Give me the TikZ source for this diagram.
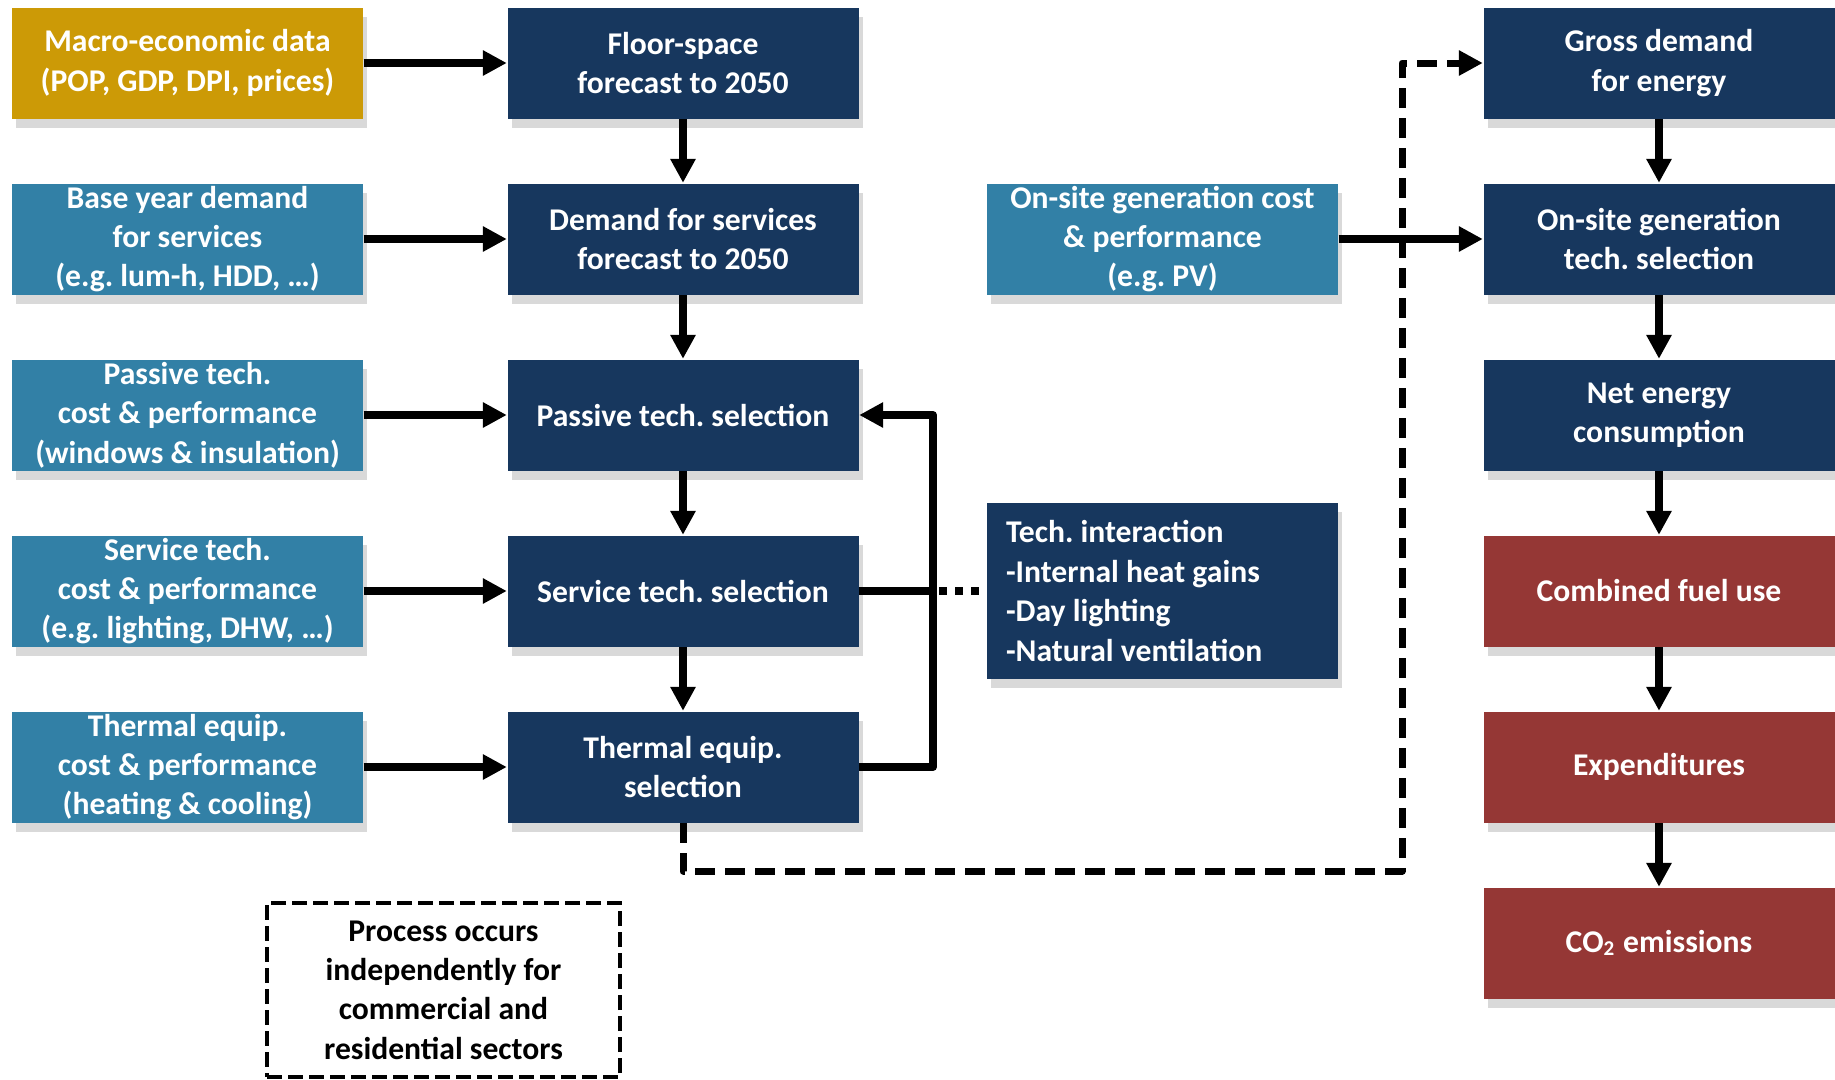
\documentclass[tikz,border=0pt]{standalone}
\usepackage{fontspec}
\setmainfont{Carlito}
\usetikzlibrary{calc, positioning}
\usetikzlibrary{arrows.meta}
\usetikzlibrary{shadows}

\definecolor{navy}{HTML}{17375E}
\definecolor{inblue}{HTML}{3280A6}
\definecolor{gold}{HTML}{CC9A06}
\definecolor{brick}{HTML}{953735}

\tikzset{
  box/.style={rectangle, minimum width=3.51cm, minimum height=1.11cm, inner sep=0pt,
    align=center, text=white,
    drop shadow={shadow xshift=0.4mm, shadow yshift=-0.9mm, opacity=0.3}},
  inbox/.style={box, fill=inblue},
  stepbox/.style={box, fill=navy},
  outbox/.style={box, fill=brick},
  flow/.style={line width=0.8mm, line join=round, -{Triangle[length=2.4mm, width=2.4mm]}},
  dashflow/.style={flow, line width=0.7mm, dash pattern=on 2mm off 1mm},
  dotline/.style={line width=0.8mm, dash pattern=on 0.8mm off 0.8mm},
}

\begin{document}
\begin{tikzpicture}[font=\fontsize{9}{11.2}\selectfont\bfseries\frenchspacing]
\useasboundingbox (0,0) rectangle (18.35,-10.79);
\def\colL{1.875}
\def\colM{6.83}
\def\colC{11.625}
\def\colR{16.59}
\coordinate (fb) at (9.33,0);
\coordinate (dr) at (14.02,-8.71);

\node[inbox, fill=gold] (macro) at (\colL,-0.63) {Macro-economic data\\(POP, GDP, DPI, prices)};
\node[inbox] (base) at (\colL,-2.39) {Base year demand\\for services\\(e.g. lum-h, HDD, …)};
\node[inbox] (passin) at (\colL,-4.15) {Passive tech.\\cost \& performance\\(windows \& insulation)};
\node[inbox] (servin) at (\colL,-5.91) {Service tech.\\cost \& performance\\(e.g. lighting, DHW, …)};
\node[inbox] (thermin) at (\colL,-7.67) {Thermal equip.\\cost \& performance\\(heating \& cooling)};

\node[stepbox] (floor) at (\colM,-0.63) {Floor-space\\forecast to 2050};
\node[stepbox] (demand) at (\colM,-2.39) {Demand for services\\forecast to 2050};
\node[stepbox] (passsel) at (\colM,-4.15) {Passive tech. selection};
\node[stepbox] (servsel) at (\colM,-5.91) {Service tech. selection};
\node[stepbox] (thermsel) at (\colM,-7.67) {Thermal equip.\\selection};

\node[inbox] (gencost) at (\colC,-2.39) {On-site generation cost\\\& performance\\(e.g. PV)};
\node[stepbox, minimum height=1.76cm, text width=3.13cm, inner xsep=0.19cm, align=flush left]
  (inter) at (\colC,-5.91) {Tech. interaction\\-Internal heat gains\\-Day lighting\\-Natural ventilation};

\node[stepbox] (gross) at (\colR,-0.63) {Gross demand\\for energy};
\node[stepbox] (gensel) at (\colR,-2.39) {On-site generation\\tech. selection};
\node[stepbox] (net) at (\colR,-4.15) {Net energy\\consumption};
\node[outbox] (fuel) at (\colR,-5.91) {Combined fuel use};
\node[outbox] (expend) at (\colR,-7.67) {Expenditures};
\node[outbox] (co2) at (\colR,-9.43) {CO\textsubscript{2} emissions};

\node[draw, line width=0.4mm, dash pattern=on 1.5mm off 0.6mm, minimum width=3.53cm,
  minimum height=1.74cm, inner sep=0pt, align=center] (note) at (4.435,-9.90)
  {Process occurs\\independently for\\commercial and\\residential sectors};

\draw[flow] (macro) -- (floor);
\draw[flow] (base) -- (demand);
\draw[flow] (passin) -- (passsel);
\draw[flow] (servin) -- (servsel);
\draw[flow] (thermin) -- (thermsel);

\draw[flow] (floor) -- (demand);
\draw[flow] (demand) -- (passsel);
\draw[flow] (passsel) -- (servsel);
\draw[flow] (servsel) -- (thermsel);

\draw[flow] (thermsel.east) -- (thermsel.east -| fb) -- (passsel.east -| fb) -- (passsel.east);
\draw[dotline] (servsel.east) -- (inter.west);
\draw[line width=0.8mm] (servsel.east) -- (servsel.east -| fb);

\draw[dashflow] (thermsel.south) |- (dr) |- (gross.west);
\draw[flow] (gencost) -- (gensel);

\draw[flow] (gross) -- (gensel);
\draw[flow] (gensel) -- (net);
\draw[flow] (net) -- (fuel);
\draw[flow] (fuel) -- (expend);
\draw[flow] (expend) -- (co2);
\end{tikzpicture}
\end{document}
